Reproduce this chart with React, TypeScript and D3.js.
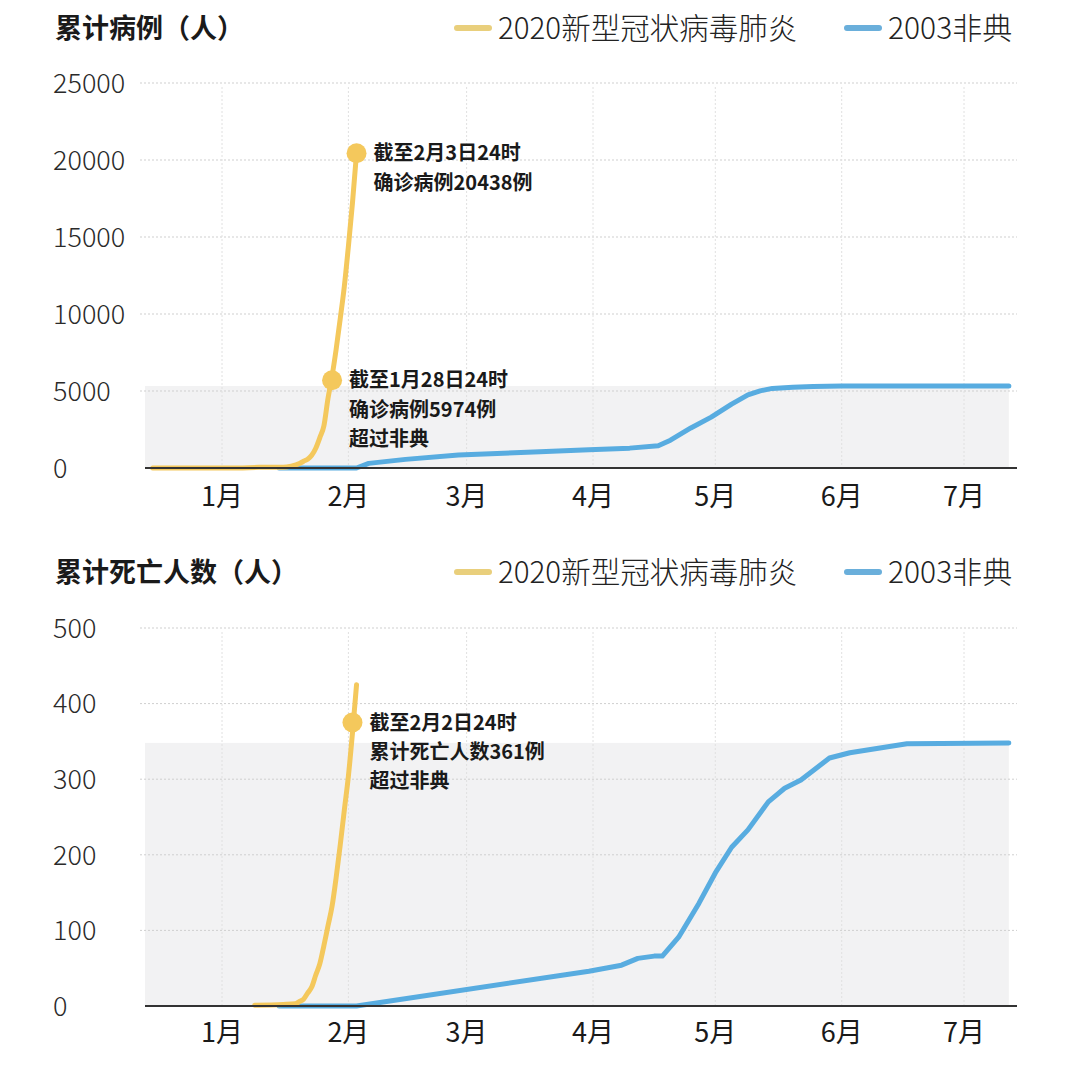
import React from 'react';
import * as d3 from 'd3';

// ---------- data ----------
const monthLabels = ['1月', '2月', '3月', '4月', '5月', '6月', '7月'];
const monthStarts = ['01-01', '02-01', '03-01', '04-01', '05-01', '06-01', '07-01'];

const caseTicks = [0, 5000, 10000, 15000, 20000, 25000];
const deathTicks = [0, 100, 200, 300, 400, 500];

const seriesNames = ['2020新型冠状病毒肺炎', '2003非典'];

// 2020 novel coronavirus, cumulative confirmed cases (date, value)
const ncovCases: [string, number][] = [
  ['2019-12-15', 0], ['2020-01-05', 0], ['2020-01-10', 41], ['2020-01-16', 45],
  ['2020-01-18', 121], ['2020-01-20', 291], ['2020-01-21', 440], ['2020-01-22', 571],
  ['2020-01-23', 830], ['2020-01-24', 1287], ['2020-01-25', 1975], ['2020-01-26', 2744],
  ['2020-01-27', 4515], ['2020-01-28', 5974], ['2020-01-29', 7711], ['2020-01-30', 9692],
  ['2020-01-31', 11791], ['2020-02-01', 14380], ['2020-02-02', 17205], ['2020-02-03', 20438],
];

// 2003 SARS, cumulative cases
const sarsCases: [string, number][] = [
  ['2003-01-15', 0], ['2003-02-03', 0], ['2003-02-06', 300], ['2003-02-15', 560],
  ['2003-02-28', 840], ['2003-03-19', 1060], ['2003-03-31', 1190], ['2003-04-10', 1290],
  ['2003-04-17', 1450], ['2003-04-20', 1807], ['2003-04-25', 2600], ['2003-04-30', 3303],
  ['2003-05-05', 4150], ['2003-05-09', 4750], ['2003-05-12', 5010], ['2003-05-15', 5170],
  ['2003-05-20', 5250], ['2003-05-25', 5300], ['2003-06-01', 5325], ['2003-06-15', 5328],
  ['2003-07-12', 5328],
];

// 2020 novel coronavirus, cumulative deaths
const ncovDeaths: [string, number][] = [
  ['2020-01-09', 1], ['2020-01-16', 2], ['2020-01-19', 3], ['2020-01-20', 6],
  ['2020-01-21', 9], ['2020-01-22', 17], ['2020-01-23', 25], ['2020-01-24', 41],
  ['2020-01-25', 56], ['2020-01-26', 80], ['2020-01-27', 106], ['2020-01-28', 132],
  ['2020-01-29', 170], ['2020-01-30', 213], ['2020-01-31', 259], ['2020-02-01', 304],
  ['2020-02-02', 361], ['2020-02-03', 425],
];

// 2003 SARS, cumulative deaths
const sarsDeaths: [string, number][] = [
  ['2003-01-15', 0], ['2003-02-03', 0], ['2003-03-31', 46], ['2003-04-02', 48],
  ['2003-04-08', 54], ['2003-04-12', 63], ['2003-04-16', 66], ['2003-04-18', 66],
  ['2003-04-22', 91], ['2003-04-27', 136], ['2003-05-01', 176], ['2003-05-05', 210],
  ['2003-05-09', 233], ['2003-05-14', 270], ['2003-05-18', 288], ['2003-05-22', 299],
  ['2003-05-29', 328], ['2003-06-03', 335], ['2003-06-17', 347], ['2003-07-12', 348],
];

const caseNotes: { date: string; value: number; lines: string[] }[] = [
  { date: '2020-02-03', value: 20438, lines: ['截至2月3日24时', '确诊病例20438例'] },
  { date: '2020-01-28', value: 5700, lines: ['截至1月28日24时', '确诊病例5974例', '超过非典'] },
];
const deathNotes: { date: string; value: number; lines: string[] }[] = [
  { date: '2020-02-02', value: 375, lines: ['截至2月2日24时', '累计死亡人数361例', '超过非典'] },
];

// ---------- helpers ----------
const FONT = '"Noto Sans CJK SC", "Noto Sans", sans-serif';
const YELLOW = '#F4C85C';
const BLUE = '#58ACE0';
const parse = d3.timeParse('%Y-%m-%d');
// map any date onto the nominal 2020 month/day axis
const toAxisDate = (s: string) => {
  const d = parse(s)!;
  if (d.getFullYear() === 2003) return new Date(2020, d.getMonth(), d.getDate());
  return d;
};

const x = d3
  .scaleTime()
  .domain([new Date(2020, 0, 1), new Date(2020, 6, 1)])
  .range([222, 964]);

const PLOT_LEFT = 145;
const PLOT_RIGHT = 1017;
const NOTE_FS = 20;
const NOTE_LH = 29.2;

type Note = { date: string; value: number; lines: string[] };
type Panel = {
  title: string;
  top: number;
  y: d3.ScaleLinear<number, number>;
  ticks: number[];
  ncov: [string, number][];
  sars: [string, number][];
  notes: Note[];
  labelY: number;
};

function ChartPanel({ p }: { p: Panel }) {
  const { y } = p;
  const smooth = d3
    .line<[string, number]>()
    .x((d) => x(toAxisDate(d[0])))
    .y((d) => y(d[1]))
    .curve(d3.curveMonotoneX);
  const poly = d3
    .line<[string, number]>()
    .x((d) => x(toAxisDate(d[0])))
    .y((d) => y(d[1]))
    .curve(d3.curveLinear);
  const sarsMax = d3.max(p.sars, (d) => d[1])!;
  const sarsEnd = x(toAxisDate(p.sars[p.sars.length - 1][0]));
  const yTop = y(p.ticks[p.ticks.length - 1]);
  const y0 = y(0);
  const monthX = monthStarts.map((m) => x(parse('2020-' + m)!));

  return (
    <g>
      {/* title */}
      <text x={55} y={p.top} dy="0.36em" fontFamily={FONT} fontSize={27} fontWeight={700} fill="#1a1a1a">
        {p.title}
      </text>
      {/* legend */}
      <line x1={457} x2={489} y1={p.top} y2={p.top} stroke="#E9CF7C" strokeWidth={6} strokeLinecap="round" />
      <text x={498} y={p.top} dy="0.36em" fontFamily={FONT} fontSize={29.5} fontWeight={300} fill="#222">
        {seriesNames[0]}
      </text>
      <line x1={847} x2={879} y1={p.top} y2={p.top} stroke="#6AAFDB" strokeWidth={6} strokeLinecap="round" />
      <text x={888} y={p.top} dy="0.36em" fontFamily={FONT} fontSize={30} fontWeight={300} fill="#222">
        {seriesNames[1]}
      </text>

      {/* shaded band = SARS total */}
      <rect x={PLOT_LEFT} y={y(sarsMax)} width={sarsEnd - PLOT_LEFT} height={y0 - y(sarsMax)} fill="#F2F2F3" />

      {/* horizontal grid */}
      {p.ticks.filter((t) => t > 0).map((t) => (
        <line key={t} x1={140} x2={PLOT_RIGHT} y1={y(t)} y2={y(t)} stroke="#CFCFCF" strokeWidth={1} strokeDasharray="2,2" />
      ))}
      {/* vertical grid */}
      {monthX.map((mx, i) => (
        <line key={i} x1={mx} x2={mx} y1={yTop + 4} y2={y0} stroke="#E0E0E0" strokeWidth={1} strokeDasharray="2,2" />
      ))}

      {/* y tick labels */}
      {p.ticks.map((t) => (
        <text key={t} x={53} y={y(t)} dy="0.36em" fontFamily={FONT} fontSize={27} fontWeight={300} fill="#2a2a2a">
          {t}
        </text>
      ))}

      {/* lines */}
      <path d={poly(p.sars)!} fill="none" stroke={BLUE} strokeWidth={5} strokeLinecap="round" strokeLinejoin="round" />
      <path d={smooth(p.ncov)!} fill="none" stroke={YELLOW} strokeWidth={5} strokeLinecap="round" strokeLinejoin="round" />

      {/* x axis */}
      <line x1={PLOT_LEFT} x2={PLOT_RIGHT} y1={y0} y2={y0} stroke="#333" strokeWidth={2} />
      {monthLabels.map((m, i) => (
        <text key={m} x={monthX[i]} y={p.labelY} dy="0.36em" textAnchor="middle" fontFamily={FONT} fontSize={27} fontWeight={400} fill="#1a1a1a">
          {m}
        </text>
      ))}

      {/* annotations */}
      {p.notes.map((n, k) => {
        const cx = x(toAxisDate(n.date));
        const cy = y(n.value);
        return (
          <g key={k}>
            <circle cx={cx} cy={cy} r={10} fill={YELLOW} />
            <text x={cx + 17} y={cy} fontFamily={FONT} fontSize={NOTE_FS} fontWeight={700} fill="#1a1a1a">
              {n.lines.map((l, j) => (
                <tspan key={j} x={cx + 17} dy={j === 0 ? '0.36em' : NOTE_LH}>
                  {l}
                </tspan>
              ))}
            </text>
          </g>
        );
      })}
    </g>
  );
}

export default function App() {
  const yCases = d3.scaleLinear().domain([0, 25000]).range([468, 83]);
  const yDeaths = d3.scaleLinear().domain([0, 500]).range([1006, 628]);
  const panels: Panel[] = [
    { title: '累计病例（人）', top: 28, y: yCases, ticks: caseTicks, ncov: ncovCases, sars: sarsCases, notes: caseNotes, labelY: 496 },
    { title: '累计死亡人数（人）', top: 572, y: yDeaths, ticks: deathTicks, ncov: ncovDeaths, sars: sarsDeaths, notes: deathNotes, labelY: 1032 },
  ];
  return (
    <svg width={1080} height={1079} style={{ position: 'absolute', left: 0, top: 0, background: '#fff' }}>
      <rect width={1080} height={1079} fill="#fff" />
      {panels.map((p, i) => (
        <ChartPanel key={i} p={p} />
      ))}
    </svg>
  );
}
